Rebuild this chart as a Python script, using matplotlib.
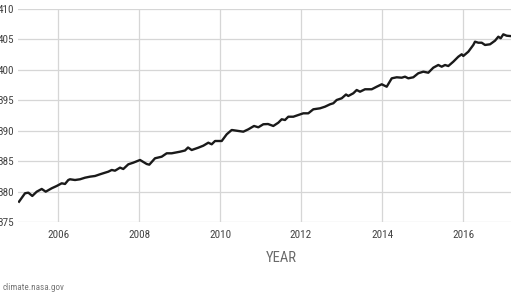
import numpy as np
import matplotlib
matplotlib.use("Agg")
import matplotlib.pyplot as plt
from matplotlib import font_manager

# === DATA ===
year = [2005.037, 2005.185, 2005.267, 2005.365, 2005.474, 2005.598, 2005.696, 2005.844,
        2005.968, 2006.091, 2006.173, 2006.254, 2006.296, 2006.420, 2006.543, 2006.667,
        2006.790, 2006.914, 2007.037, 2007.160, 2007.242, 2007.326, 2007.407, 2007.531,
        2007.612, 2007.736, 2007.859, 2008.025, 2008.190, 2008.254, 2008.395, 2008.560,
        2008.684, 2008.807, 2009.012, 2009.136, 2009.210, 2009.301, 2009.464, 2009.588,
        2009.711, 2009.795, 2009.877, 2010.042, 2010.165, 2010.289, 2010.452, 2010.575,
        2010.699, 2010.840, 2010.946, 2011.069, 2011.185, 2011.316, 2011.440, 2011.523,
        2011.605, 2011.686, 2011.810, 2011.933, 2012.057, 2012.180, 2012.304, 2012.469,
        2012.593, 2012.716, 2012.798, 2012.881, 2013.005, 2013.111, 2013.168, 2013.291,
        2013.375, 2013.457, 2013.580, 2013.746, 2013.869, 2013.993, 2014.116, 2014.240,
        2014.363, 2014.486, 2014.568, 2014.649, 2014.773, 2014.896, 2015.020, 2015.143,
        2015.267, 2015.390, 2015.474, 2015.556, 2015.637, 2015.760, 2015.884, 2015.968,
        2016.007, 2016.131, 2016.254, 2016.296, 2016.378, 2016.462, 2016.543, 2016.667,
        2016.790, 2016.872, 2016.931, 2016.995, 2017.079, 2017.160]
co2_ppm = [378.34, 379.72, 379.82, 379.28, 379.98, 380.43, 379.98, 380.54,
           380.92, 381.36, 381.25, 381.90, 382.02, 381.90, 382.02, 382.28,
           382.45, 382.56, 382.84, 383.10, 383.27, 383.55, 383.43, 383.93,
           383.71, 384.48, 384.75, 385.19, 384.53, 384.42, 385.47, 385.73,
           386.29, 386.29, 386.55, 386.75, 387.24, 386.83, 387.21, 387.54,
           388.03, 387.77, 388.31, 388.31, 389.41, 390.12, 389.96, 389.84,
           390.23, 390.78, 390.56, 391.06, 391.10, 390.78, 391.32, 391.88,
           391.76, 392.30, 392.30, 392.58, 392.86, 392.86, 393.52, 393.68,
           393.95, 394.34, 394.51, 395.05, 395.33, 395.95, 395.71, 396.15,
           396.69, 396.41, 396.81, 396.81, 397.23, 397.63, 397.23, 398.61,
           398.78, 398.71, 398.88, 398.61, 398.78, 399.44, 399.70, 399.53,
           400.36, 400.80, 400.52, 400.80, 400.63, 401.34, 402.16, 402.56,
           402.28, 402.98, 404.09, 404.63, 404.46, 404.46, 404.09, 404.20,
           404.79, 405.45, 405.19, 405.84, 405.61, 405.56]

x_ticks = [2006, 2008, 2010, 2012, 2014, 2016]
y_ticks = [375, 380, 385, 390, 395, 400, 405, 410]

# === FONT: prefer a condensed face, else a narrow-ish one ===
names = {f.name for f in font_manager.fontManager.ttflist}
cands = ["Roboto Condensed", "Liberation Sans Narrow", "Open Sans Condensed",
         "Noto Sans Condensed", "DejaVu Sans Condensed", "Liberation Sans"]
narrow = next((c for c in cands if c in names), "DejaVu Sans")
plt.rcParams["font.family"] = [narrow, "DejaVu Sans"]

# === PLOT ===
W, H = 511, 297
fig = plt.figure(figsize=(W / 100, H / 100), dpi=100)
ax = fig.add_axes([18 / W, 1 - 222 / H, (W - 18) / W, 213 / H])

ax.plot(year, co2_ppm, color="#1a1a1a", linewidth=1.7, solid_joinstyle="round")

ax.set_xlim(2005.012, 2017.185)
ax.set_ylim(375, 410)
ax.set_xticks(x_ticks)
ax.set_yticks(y_ticks)
ax.set_xticklabels([str(t) for t in x_ticks])
ax.set_yticklabels([str(t) for t in y_ticks])

ax.grid(True, color="#d6d6d6", linewidth=0.9)
ax.set_axisbelow(True)
for s in ax.spines.values():
    s.set_visible(False)

ax.tick_params(axis="both", length=0, labelsize=8, labelcolor="#444444")
ax.tick_params(axis="x", pad=6)
ax.tick_params(axis="y", pad=3)

fig.text(281 / W, 1 - 258 / H, "YEAR", ha="center", va="center",
         fontsize=10.5, color="#6a6a6a")
fig.text(3 / W, 1 - 287.5 / H, "climate.nasa.gov", ha="left", va="center",
         fontsize=6.6, color="#777777")

fig.savefig("out.png", dpi=100)
